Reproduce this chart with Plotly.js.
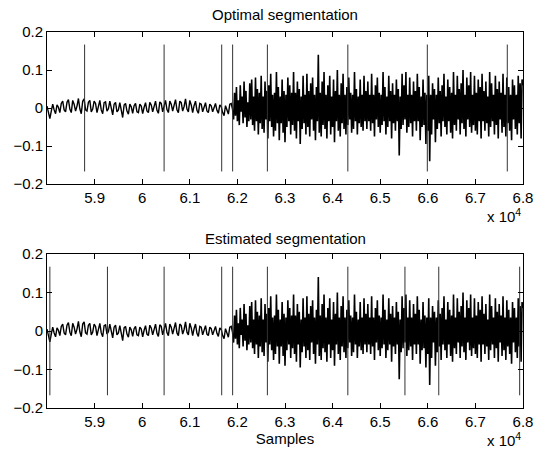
<!DOCTYPE html>
<html><head><meta charset="utf-8">
<script src="https://cdn.plot.ly/plotly-3.0.1.min.js"></script>
<style>html,body{margin:0;padding:0;background:#fff}</style>
</head><body><div id="chart" style="width:535px;height:452px"></div>
<script>
// Signal amplitude, in units of 0.001
const quietStart = 58000, quietStep = 30;
const quietSignal = [
 5,-10,-28,-8,10,-5,-15,8,2,-12,
 12,18,-5,-10,15,22,-3,-12,20,10,-8,5,25,-2,-15,18,24,-5,-8,15,
 20,-10,-3,18,12,-12,2,20,-5,-15,14,16,-8,-2,18,-4,-18,10,15,-10,
 -5,14,-12,-25,8,12,-8,-16,10,3,-14,6,12,-10,-12,10,5,-15,2,14,
 -8,-12,15,8,-10,5,18,-6,-14,16,12,-10,2,20,-4,-12,18,10,-8,6,
 22,-5,-12,18,14,-8,4,24,-3,-10,20,8,-12,6,18,-6,-14,12,10,-10,
 4,14,-8,-12,10,6,-10,2,12,-6,-14,8,4,-12,-20,6,-4,-16,10,12,-5
];
const loudStart = 61900, loudStep = 20;
const loudSignal = [
 -5,-30,40,-20,55,-35,20,-45,60,-10,30,-40,70,-25,45,-50,15,-35,65,-30,
 75,-45,30,-60,80,-35,50,-70,40,-40,85,-55,30,-65,70,-30,45,-80,60,-35,
 90,-50,35,-75,40,-60,95,-40,55,-85,30,-40,75,-65,45,-90,35,-50,80,-35,
 60,-70,40,-45,95,-60,40,-80,70,-35,50,-95,30,-55,85,-40,35,-70,90,-50,
 45,-75,65,-30,80,-60,35,-85,55,-35,140,-65,40,-75,70,-45,95,-55,35,-80,
 60,-35,85,-70,30,-50,75,-90,45,-35,100,-60,35,-75,65,-40,90,-55,35,-70,
 55,-45,80,-30,40,-65,35,-55,95,-35,50,-70,30,-40,75,-50,35,-60,85,-35,
 45,-55,70,-35,35,-60,90,-40,35,-75,60,-30,80,-50,40,-65,35,-45,95,-35,
 55,-70,30,-50,85,-35,45,-80,65,-40,35,-60,75,-35,50,-125,30,-55,90,-45,
 60,-30,95,-65,35,-50,80,-40,35,-75,70,-35,45,-60,90,-35,55,-85,30,-50,
 75,-45,40,-95,35,-60,85,-140,35,-70,65,-30,50,-90,35,-55,80,-40,45,-75,
 60,-35,90,-50,30,-70,75,-35,55,-65,40,-80,95,-45,35,-60,85,-30,50,-70,
 65,-40,100,-55,35,-75,80,-30,60,-50,95,-65,35,-45,85,-60,40,-70,75,-35,
 55,-80,90,-35,45,-60,70,-40,30,-75,95,-50,65,-35,35,-70,85,-45,50,-80,
 70,-30,40,-65,90,-50,35,-75,80,-40,55,-60,35,-85,75,-30,60,-55,35,-70,
 85,-40,65,-80,75,60
];
const optimalBounds = [58790, 60460, 61670, 61900, 62630, 64320, 65990, 67670];
const estimatedBounds = [58060, 59270, 60460, 61670, 61900, 62630, 64320, 65520, 66230, 67930];
const boundLimits = [-0.167, 0.167];
const xTickVals = [59000,60000,61000,62000,63000,64000,65000,66000,67000,68000];
const xTickText = ['5.9','6','6.1','6.2','6.3','6.4','6.5','6.6','6.7','6.8'];
const yTickVals = [-0.2,-0.1,0,0.1,0.2];
const panelTitles = ['Optimal segmentation','Estimated segmentation'];

const toUnits = a => a.map(v => v/1000);
function boundsXY(b){
  const x=[],y=[];
  b.forEach(v=>{x.push(v,v,null);y.push(boundLimits[0],boundLimits[1],null);});
  return {x,y};
}
const font = {family:'"Liberation Sans", Arial, sans-serif', size:15, color:'#000'};
const traces = [];
[['x','y',optimalBounds],['x2','y2',estimatedBounds]].forEach(([xa,ya,b])=>{
  traces.push({type:'scatter',mode:'lines',x0:quietStart,dx:quietStep,y:toUnits(quietSignal),xaxis:xa,yaxis:ya,line:{color:'#000',width:1.4},hoverinfo:'skip'});
  traces.push({type:'scatter',mode:'lines',x0:loudStart,dx:loudStep,y:toUnits(loudSignal),xaxis:xa,yaxis:ya,line:{color:'#000',width:1.6},hoverinfo:'skip'});
  const bb = boundsXY(b);
  traces.push({type:'scatter',mode:'lines',x:bb.x,y:bb.y,xaxis:xa,yaxis:ya,line:{color:'#333',width:1},connectgaps:false,hoverinfo:'skip'});
});
const xbase = {range:[58000,68000],tickvals:xTickVals,ticktext:xTickText,ticks:'inside',ticklen:5,tickcolor:'#000',
  showline:true,linecolor:'#000',linewidth:1,mirror:'ticks',showgrid:false,zeroline:false,tickfont:font,domain:[47/535,523/535]};
const ybase = {range:[-0.2,0.2],tickvals:yTickVals,ticks:'inside',ticklen:5,tickcolor:'#000',
  showline:true,linecolor:'#000',linewidth:1,mirror:'ticks',showgrid:false,zeroline:false,tickfont:font};
const layout = {
  width:535,height:452,margin:{l:0,r:0,t:0,b:0},showlegend:false,
  paper_bgcolor:'#fff',plot_bgcolor:'#fff',font:font,
  xaxis:Object.assign({},xbase,{anchor:'y'}),
  yaxis:Object.assign({},ybase,{domain:[(452-184)/452,(452-32)/452],anchor:'x'}),
  xaxis2:Object.assign({},xbase,{anchor:'y2',title:{text:'Samples',font:font,standoff:2}}),
  yaxis2:Object.assign({},ybase,{domain:[(452-408)/452,(452-254)/452],anchor:'x2'}),
  annotations:[
    {text:panelTitles[0],xref:'paper',yref:'paper',x:285/535,y:1-15/452,yanchor:'middle',showarrow:false,font:font},
    {text:panelTitles[1],xref:'paper',yref:'paper',x:285/535,y:1-238/452,yanchor:'middle',showarrow:false,font:font},
    {text:'x 10<sup>4</sup>',xref:'paper',yref:'paper',x:523/535,xanchor:'right',y:1-204/452,yanchor:'top',showarrow:false,font:font},
    {text:'x 10<sup>4</sup>',xref:'paper',yref:'paper',x:523/535,xanchor:'right',y:1-428/452,yanchor:'top',showarrow:false,font:font}
  ]
};
Plotly.newPlot('chart',traces,layout,{staticPlot:true,displayModeBar:false});
</script></body></html>
